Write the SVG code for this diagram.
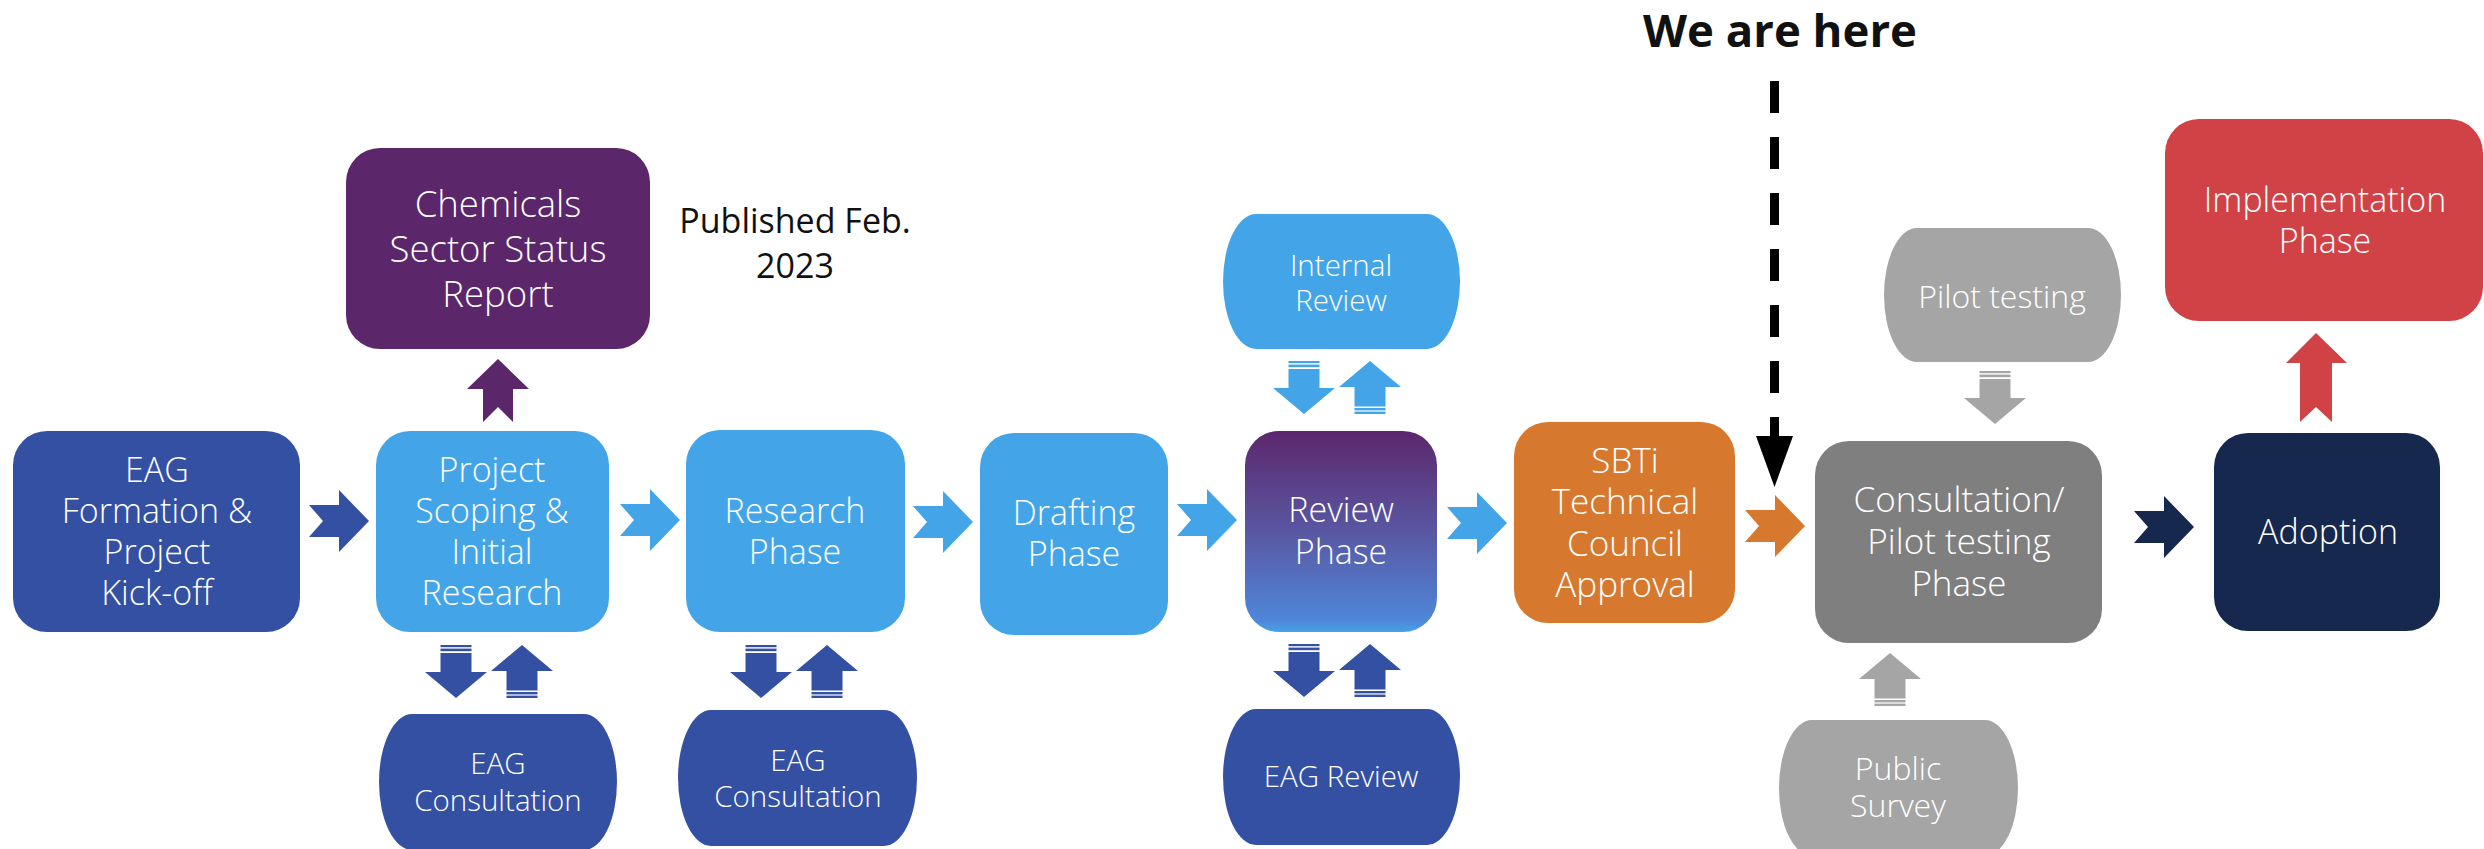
<svg xmlns="http://www.w3.org/2000/svg" width="2484" height="849" viewBox="0 0 2484 849">
<style>
  .t { font-family: "Open Sans", "Liberation Sans", sans-serif; font-weight: 300; fill: #ffffff; text-anchor: middle; }
  .m { font-size: 34px; }
  .s { font-size: 29.5px; }
  .g { font-size: 32px; }
  .blk { font-family: "Open Sans", "Liberation Sans", sans-serif; fill: #111111; text-anchor: middle; }
  .dblue { fill: #3450a3; }
  .lblue { fill: #43a5e8; }
  .grey { fill: #a5a5a5; }
</style>
<defs>
  <linearGradient id="revGrad" x1="0" y1="0" x2="0" y2="1">
    <stop offset="0" stop-color="#5c276c"/>
    <stop offset="0.5" stop-color="#5957a2"/>
    <stop offset="0.94" stop-color="#4f86d9"/>
    <stop offset="1" stop-color="#46a2e8"/>
  </linearGradient>
  <polygon id="chev" points="0,-16 30,-16 30,-31 60,0 30,31 30,16 0,16 14,0"/>
  <g id="dn">
    <rect x="-15.5" y="0" width="31" height="2.2"/>
    <rect x="-15.5" y="3.6" width="31" height="2.6"/>
    <polygon points="-15.5,8 15.5,8 15.5,27 31,27 0,53 -31,27 -15.5,27"/>
  </g>
  <g id="up">
    <polygon points="0,0 31,26 15.5,26 15.5,45.5 -15.5,45.5 -15.5,26 -31,26"/>
    <rect x="-15.5" y="47" width="31" height="2.4"/>
    <rect x="-15.5" y="50.6" width="31" height="2.4"/>
  </g>
</defs>

<g id="connectors">
  <use href="#chev" x="309" y="521" class="dblue"/>
  <use href="#chev" x="620" y="520" class="lblue"/>
  <use href="#chev" x="913" y="522" class="lblue"/>
  <use href="#chev" x="1177" y="520" class="lblue"/>
  <use href="#chev" x="1447" y="523" class="lblue"/>
  <use href="#chev" x="1745" y="526" fill="#d7782f"/>
  <use href="#chev" x="2134" y="527" fill="#16284d"/>

  <polygon points="498,359 529,389 513,389 513,422 498,407 483,422 483,389 467,389" fill="#5c266b"/>
  <polygon points="2316,333 2347,363 2332,363 2332,422 2316,407 2300,422 2300,363 2286,363" fill="#d04246"/>

  <use href="#dn" x="456" y="645" class="dblue"/>
  <use href="#up" x="522" y="645" class="dblue"/>
  <use href="#dn" x="761" y="645" class="dblue"/>
  <use href="#up" x="827" y="645" class="dblue"/>
  <use href="#dn" x="1304" y="644" class="dblue"/>
  <use href="#up" x="1370" y="644" class="dblue"/>
  <use href="#dn" x="1304" y="361" class="lblue"/>
  <use href="#up" x="1370" y="361" class="lblue"/>
  <use href="#dn" x="1995" y="371" class="grey"/>
  <use href="#up" x="1890" y="653" class="grey"/>

  <line x1="1774.5" y1="81" x2="1774.5" y2="437" stroke="#000000" stroke-width="9" stroke-dasharray="32 24"/>
  <polygon points="1756,436 1793,436 1774.5,487" fill="#000000"/>
</g>

<g id="we-are-here">
  <text x="1780" y="47" class="blk" font-size="44" font-weight="700" textLength="274" lengthAdjust="spacingAndGlyphs">We are here</text>
</g>

<g id="published">
  <text class="blk" font-size="34"><tspan x="795" y="233">Published Feb.</tspan><tspan x="795" y="278">2023</tspan></text>
</g>

<g id="eag-formation">
  <rect x="13" y="431" width="287" height="201" rx="34" fill="#3450a3"/>
  <text class="t m"><tspan x="157" y="482">EAG</tspan><tspan x="157" y="523">Formation &amp;</tspan><tspan x="157" y="564">Project</tspan><tspan x="157" y="605">Kick-off</tspan></text>
</g>

<g id="chemicals-report">
  <rect x="346" y="148" width="304" height="201" rx="34" fill="#5c266b"/>
  <text class="t" font-size="36.5"><tspan x="498" y="217">Chemicals</tspan><tspan x="498" y="262">Sector Status</tspan><tspan x="498" y="307">Report</tspan></text>
</g>

<g id="project-scoping">
  <rect x="376" y="431" width="233" height="201" rx="34" fill="#43a5e8"/>
  <text class="t m"><tspan x="492" y="482">Project</tspan><tspan x="492" y="523">Scoping &amp;</tspan><tspan x="492" y="564">Initial</tspan><tspan x="492" y="605">Research</tspan></text>
</g>

<g id="research-phase">
  <rect x="686" y="430" width="219" height="202" rx="34" fill="#43a5e8"/>
  <text class="t m"><tspan x="795" y="523">Research</tspan><tspan x="795" y="564">Phase</tspan></text>
</g>

<g id="drafting-phase">
  <rect x="980" y="433" width="188" height="202" rx="34" fill="#43a5e8"/>
  <text class="t m"><tspan x="1074" y="525">Drafting</tspan><tspan x="1074" y="566">Phase</tspan></text>
</g>

<g id="review-phase">
  <rect x="1245" y="431" width="192" height="201" rx="34" fill="url(#revGrad)"/>
  <text class="t m"><tspan x="1341" y="522">Review</tspan><tspan x="1341" y="564">Phase</tspan></text>
</g>

<g id="sbti-approval">
  <rect x="1514" y="422" width="221" height="201" rx="34" fill="#d7782f"/>
  <text class="t" font-size="35"><tspan x="1625" y="473">SBTi</tspan><tspan x="1625" y="514">Technical</tspan><tspan x="1625" y="556">Council</tspan><tspan x="1625" y="597">Approval</tspan></text>
</g>

<g id="consultation-phase">
  <rect x="1815" y="441" width="287" height="202" rx="34" fill="#7f7f7f"/>
  <text class="t" font-size="35"><tspan x="1959" y="512">Consultation/</tspan><tspan x="1959" y="554">Pilot testing</tspan><tspan x="1959" y="596">Phase</tspan></text>
</g>

<g id="adoption">
  <rect x="2214" y="433" width="226" height="198" rx="34" fill="#16284d"/>
  <text x="2328" y="544" class="t m">Adoption</text>
</g>

<g id="implementation-phase">
  <rect x="2165" y="119" width="318" height="202" rx="34" fill="#d04246"/>
  <text class="t m"><tspan x="2325" y="212">Implementation</tspan><tspan x="2325" y="253">Phase</tspan></text>
</g>

<g id="internal-review">
  <rect x="1223" y="214" width="237" height="135" rx="33" ry="67.5" fill="#43a5e8"/>
  <text class="t s"><tspan x="1341" y="276">Internal</tspan><tspan x="1341" y="311">Review</tspan></text>
</g>

<g id="eag-consultation-1">
  <rect x="379" y="714" width="238" height="136" rx="33" ry="68" fill="#3450a3"/>
  <text class="t s"><tspan x="498" y="774">EAG</tspan><tspan x="498" y="811">Consultation</tspan></text>
</g>

<g id="eag-consultation-2">
  <rect x="678" y="710" width="239" height="136" rx="33" ry="68" fill="#3450a3"/>
  <text class="t s"><tspan x="798" y="771">EAG</tspan><tspan x="798" y="807">Consultation</tspan></text>
</g>

<g id="eag-review">
  <rect x="1223" y="709" width="237" height="136" rx="33" ry="68" fill="#3450a3"/>
  <text x="1341" y="787" class="t s">EAG Review</text>
</g>

<g id="pilot-testing">
  <rect x="1884" y="228" width="237" height="134" rx="33" ry="67" fill="#a5a5a5"/>
  <text x="2002" y="308" class="t g">Pilot testing</text>
</g>

<g id="public-survey">
  <rect x="1779" y="720" width="239" height="136" rx="33" ry="68" fill="#a5a5a5"/>
  <text class="t g"><tspan x="1898" y="780">Public</tspan><tspan x="1898" y="817">Survey</tspan></text>
</g>
</svg>
